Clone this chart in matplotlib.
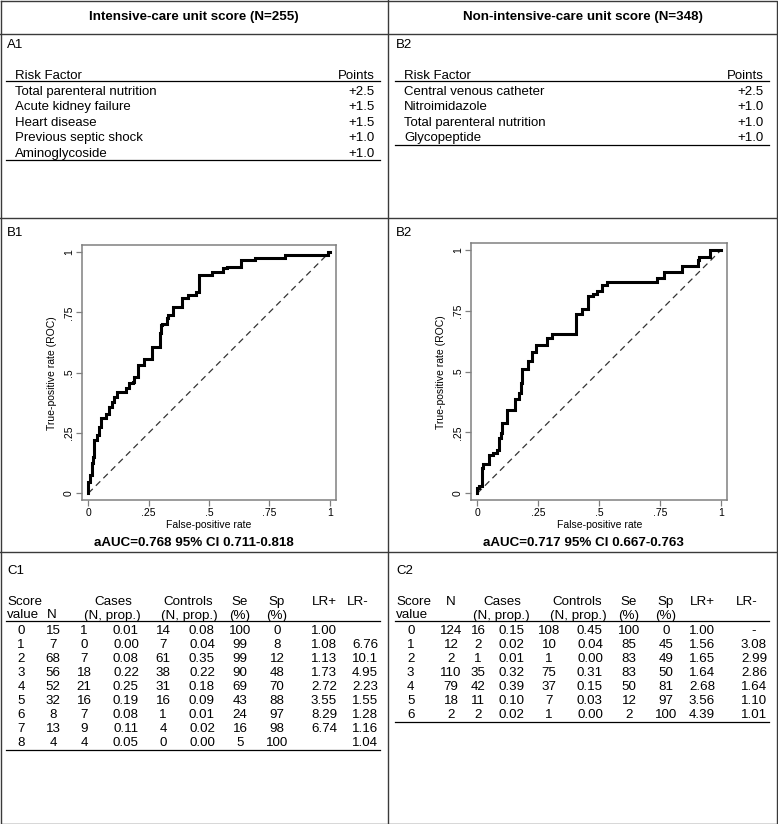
import numpy as np
import matplotlib
matplotlib.use("Agg")
import matplotlib.pyplot as plt

plt.rcParams['font.family'] = ['Liberation Sans', 'DejaVu Sans']

# ---- data ----
titles = ["Intensive-care unit score (N=255)", "Non-intensive-care unit score (N=348)"]
panel_a = ["A1", "B2"]
panel_b = ["B1", "B2"]
panel_c = ["C1", "C2"]

risk_icu = ["Total parenteral nutrition", "Acute kidney failure", "Heart disease",
            "Previous septic shock", "Aminoglycoside"]
points_icu = ["+2.5", "+1.5", "+1.5", "+1.0", "+1.0"]
risk_non = ["Central venous catheter", "Nitroimidazole", "Total parenteral nutrition",
            "Glycopeptide"]
points_non = ["+2.5", "+1.0", "+1.0", "+1.0"]

# ROC step corners (false-positive rate, true-positive rate)
fpr_icu = [0, 0, 0.007, 0.014, 0.021, 0.025, 0.034, 0.044, 0.052, 0.074, 0.087, 0.098,
           0.107, 0.117, 0.155, 0.170, 0.186, 0.188, 0.207, 0.230, 0.262, 0.297, 0.300,
           0.307, 0.324, 0.330, 0.349, 0.386, 0.414, 0.448, 0.459, 0.512, 0.556, 0.573,
           0.631, 0.690, 0.814, 0.993, 1.0]
tpr_icu = [0, 0.048, 0.076, 0.124, 0.152, 0.220, 0.242, 0.276, 0.310, 0.327, 0.359, 0.380,
           0.400, 0.420, 0.435, 0.456, 0.463, 0.483, 0.532, 0.555, 0.607, 0.663, 0.697,
           0.700, 0.725, 0.739, 0.773, 0.808, 0.822, 0.835, 0.905, 0.918, 0.932, 0.940,
           0.967, 0.976, 0.988, 1.0, 1.0]
fpr_non = [0, 0, 0.007, 0.019, 0.021, 0.047, 0.063, 0.081, 0.088, 0.095, 0.099, 0.122,
           0.156, 0.170, 0.177, 0.184, 0.208, 0.226, 0.241, 0.287, 0.307, 0.403, 0.430,
           0.455, 0.476, 0.490, 0.511, 0.532, 0.737, 0.767, 0.840, 0.904, 0.910, 0.953, 1.0]
tpr_non = [0, 0.020, 0.030, 0.103, 0.120, 0.157, 0.164, 0.178, 0.226, 0.247, 0.288, 0.342,
           0.386, 0.411, 0.452, 0.510, 0.545, 0.580, 0.610, 0.637, 0.653, 0.737, 0.756,
           0.810, 0.820, 0.830, 0.856, 0.870, 0.885, 0.909, 0.935, 0.959, 0.972, 1.0, 1.0]
auc_text = ["aAUC=0.768 95% CI 0.711-0.818", "aAUC=0.717 95% CI 0.667-0.763"]
ticks = [0, 0.25, 0.5, 0.75, 1]
tick_labels = ["0", ".25", ".5", ".75", "1"]

# score tables
score_icu = ["0", "1", "2", "3", "4", "5", "6", "7", "8"]
n_icu = ["15", "7", "68", "56", "52", "32", "8", "13", "4"]
cases_n_icu = ["1", "0", "7", "18", "21", "16", "7", "9", "4"]
cases_p_icu = ["0.01", "0.00", "0.08", "0.22", "0.25", "0.19", "0.08", "0.11", "0.05"]
ctrl_n_icu = ["14", "7", "61", "38", "31", "16", "1", "4", "0"]
ctrl_p_icu = ["0.08", "0.04", "0.35", "0.22", "0.18", "0.09", "0.01", "0.02", "0.00"]
se_icu = ["100", "99", "99", "90", "69", "43", "24", "16", "5"]
sp_icu = ["0", "8", "12", "48", "70", "88", "97", "98", "100"]
lrp_icu = ["1.00", "1.08", "1.13", "1.73", "2.72", "3.55", "8.29", "6.74", ""]
lrm_icu = ["", "6.76", "10.1", "4.95", "2.23", "1.55", "1.28", "1.16", "1.04"]

score_non = ["0", "1", "2", "3", "4", "5", "6"]
n_non = ["124", "12", "2", "110", "79", "18", "2"]
cases_n_non = ["16", "2", "1", "35", "42", "11", "2"]
cases_p_non = ["0.15", "0.02", "0.01", "0.32", "0.39", "0.10", "0.02"]
ctrl_n_non = ["108", "10", "1", "75", "37", "7", "1"]
ctrl_p_non = ["0.45", "0.04", "0.00", "0.31", "0.15", "0.03", "0.00"]
se_non = ["100", "85", "83", "83", "50", "12", "2"]
sp_non = ["0", "45", "49", "50", "81", "97", "100"]
lrp_non = ["1.00", "1.56", "1.65", "1.64", "2.68", "3.56", "4.39"]
lrm_non = ["-", "3.08", "2.99", "2.86", "1.64", "1.10", "1.01"]

W, H = 778, 824
fig = plt.figure(figsize=(W / 100, H / 100), dpi=100)
fig.patch.set_facecolor("white")

# overlay axes in pixel coordinates
ov = fig.add_axes([0, 0, 1, 1])
ov.set_xlim(0, W)
ov.set_ylim(H, 0)
ov.axis("off")

grid = "#3a3a3a"
lw_grid = 1.0
ov.plot([0.5, W - 0.5, W - 0.5, 0.5, 0.5], [0.5, 0.5, H - 0.5, H - 0.5, 0.5], color=grid, lw=lw_grid)
ov.plot([388.5, 388.5], [0, H], color=grid, lw=lw_grid)
for yy in [33.5, 217.5, 551.5]:
    ov.plot([0, W], [yy, yy], color=grid, lw=lw_grid)

fs_a = 9.5
fs_c = 9.6
fs_bold = 9.6

for k, x0 in enumerate([0, 389]):
    # header
    ov.text(x0 + 194, 19.5, titles[k], ha="center", va="baseline", fontsize=fs_bold, fontweight="bold")
    # A panels
    ov.text(x0 + 7, 47.7, panel_a[k], ha="left", va="baseline", fontsize=fs_a)
    risks = risk_icu if k == 0 else risk_non
    pts = points_icu if k == 0 else points_non
    ov.text(x0 + 15, 79, "Risk Factor", ha="left", va="baseline", fontsize=fs_a)
    ov.text(x0 + 375, 79, "Points", ha="right", va="baseline", fontsize=fs_a)
    ov.plot([x0 + 6, x0 + 380], [81.3, 81.3], color="black", lw=0.9)
    for i, (r, p) in enumerate(zip(risks, pts)):
        yb = 95 + 15.4 * i
        ov.text(x0 + 15, yb, r, ha="left", va="baseline", fontsize=fs_a)
        ov.text(x0 + 375, yb, p, ha="right", va="baseline", fontsize=fs_a)
    ov.plot([x0 + 6, x0 + 380], [95 + 15.4 * (len(risks) - 1) + 3.6] * 2, color="black", lw=0.9)

    # B panels
    ov.text(x0 + 7, 235.5, panel_b[k], ha="left", va="baseline", fontsize=fs_a)
    ov.text(x0 + 194, 545.7, auc_text[k], ha="center", va="baseline", fontsize=fs_bold, fontweight="bold")

    # C panels
    ov.text(x0 + 7, 574.5, panel_c[k], ha="left", va="baseline", fontsize=fs_a)

# ROC plots
frames = [(82.3, 245.3, 336.0, 500.0), (471.3, 243.3, 727.3, 500.0)]
rocs = [(fpr_icu, tpr_icu), (fpr_non, tpr_non)]
for (l, t, r, b), (fx, ty) in zip(frames, rocs):
    ax = fig.add_axes([l / W, 1 - b / H, (r - l) / W, (b - t) / H])
    ax.plot([0, 1], [0, 1], color="#333333", lw=0.9, ls=(0, (5, 3.5)))
    ax.plot(fx, ty, color="black", lw=2.2, drawstyle="steps-post", solid_joinstyle="miter")
    ax.set_xlim(-0.025, 1.026)
    ax.set_ylim(-0.028, 1.028)
    ax.set_xticks(ticks)
    ax.set_xticklabels(tick_labels)
    ax.set_yticks(ticks)
    ax.set_yticklabels(tick_labels, rotation=90, va="center")
    for s in ax.spines.values():
        s.set_color("#808080")
        s.set_linewidth(1.1)
    ax.tick_params(colors="#808080", labelcolor="black", labelsize=7.5, length=4.5, width=0.9, pad=1.5)
    ax.set_xlabel("False-positive rate", fontsize=7.5, labelpad=1)
    ax.set_ylabel("True-positive rate (ROC)", fontsize=7.5, labelpad=5)

# C tables
cols_icu = [21, 53, 84, 126, 163, 202, 240, 277, 324, 365]
cols_non = [21.7, 62, 89, 122.5, 160, 201, 240, 277, 313, 365]
head_icu = {"N": 51.7, "cases": 113, "ctrl": 188, "se": 240, "sp": 277, "lrp": 324, "lrm": 358}
head_non = {"N": 61.7, "cases": 113, "ctrl": 188, "se": 240, "sp": 277, "lrp": 313, "lrm": 358}
tables = [
    (score_icu, n_icu, cases_n_icu, cases_p_icu, ctrl_n_icu, ctrl_p_icu, se_icu, sp_icu, lrp_icu, lrm_icu),
    (score_non, n_non, cases_n_non, cases_p_non, ctrl_n_non, ctrl_p_non, se_non, sp_non, lrp_non, lrm_non),
]
for k, x0 in enumerate([0, 389]):
    cols = cols_icu if k == 0 else cols_non
    hd = head_icu if k == 0 else head_non
    y1, y2 = 605, 618.5
    ov.text(x0 + 7.3, y1, "Score", ha="left", va="baseline", fontsize=fs_c)
    ov.text(x0 + 7.3, y2, "value", ha="left", va="baseline", fontsize=fs_c)
    nrow_y = y2 if k == 0 else y1
    ov.text(x0 + hd["N"], nrow_y, "N", ha="center", va="baseline", fontsize=fs_c)
    ov.text(x0 + hd["cases"], y1, "Cases", ha="center", va="baseline", fontsize=fs_c)
    ov.text(x0 + hd["cases"] - 1, y2, "(N, prop.)", ha="center", va="baseline", fontsize=fs_c)
    ov.text(x0 + hd["ctrl"], y1, "Controls", ha="center", va="baseline", fontsize=fs_c)
    ov.text(x0 + hd["ctrl"] + 1, y2, "(N, prop.)", ha="center", va="baseline", fontsize=fs_c)
    ov.text(x0 + hd["se"], y1, "Se", ha="center", va="baseline", fontsize=fs_c)
    ov.text(x0 + hd["se"], y2, "(%)", ha="center", va="baseline", fontsize=fs_c)
    ov.text(x0 + hd["sp"], y1, "Sp", ha="center", va="baseline", fontsize=fs_c)
    ov.text(x0 + hd["sp"], y2, "(%)", ha="center", va="baseline", fontsize=fs_c)
    ov.text(x0 + hd["lrp"], y1, "LR+", ha="center", va="baseline", fontsize=fs_c)
    ov.text(x0 + hd["lrm"], y1, "LR-", ha="center", va="baseline", fontsize=fs_c)
    ov.plot([x0 + 6, x0 + 380], [620.7, 620.7], color="black", lw=0.9)
    data = tables[k]
    nrows = len(data[0])
    for i in range(nrows):
        yb = 634.3 + 13.9 * i
        for c, col in enumerate(data):
            ov.text(x0 + cols[c], yb, col[i], ha="center", va="baseline", fontsize=fs_c)
    ov.plot([x0 + 6, x0 + 380], [634.3 + 13.9 * (nrows - 1) + 4] * 2, color="black", lw=0.9)

fig.savefig("out.png", dpi=100, facecolor="white")
